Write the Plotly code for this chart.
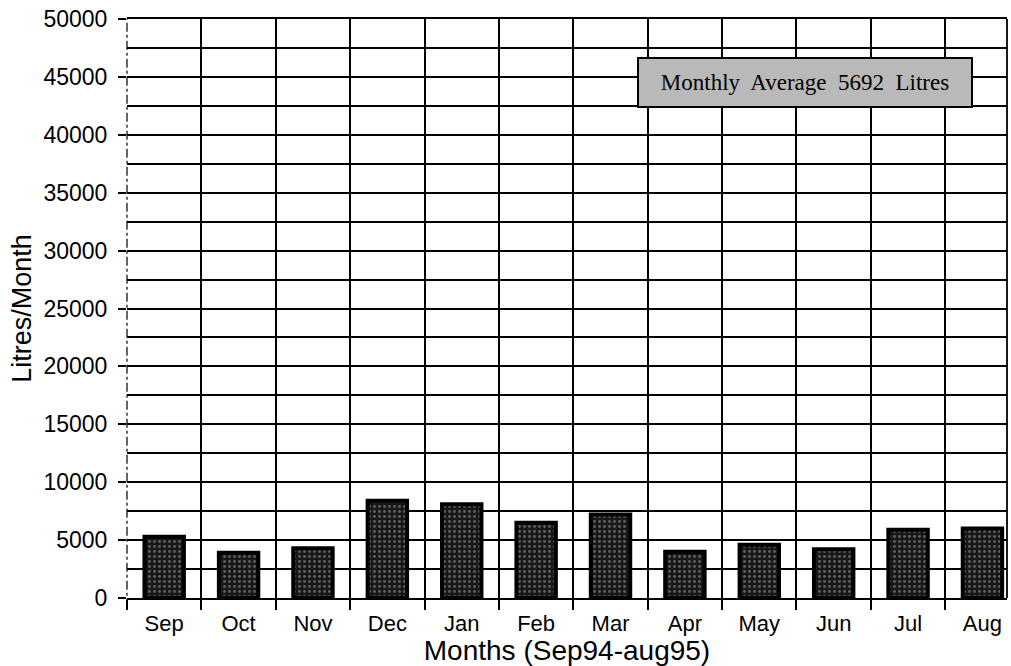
import plotly.graph_objects as go

# Monthly water use, September 1994 to August 1995
months = ["Sep", "Oct", "Nov", "Dec", "Jan", "Feb", "Mar", "Apr", "May", "Jun", "Jul", "Aug"]
litres = [5300, 3900, 4300, 8400, 8100, 6500, 7200, 4000, 4600, 4200, 5900, 6000]
average_label = "Monthly  Average  5692  Litres"

y_ticks = list(range(0, 50001, 5000))

fig = go.Figure(
    go.Bar(
        x=months,
        y=litres,
        width=0.53,
        marker=dict(
            color="#181818",
            line=dict(color="#000000", width=4),
            pattern=dict(shape=".", fgcolor="#a8a8a8", bgcolor="#181818", size=5, solidity=0.25),
        ),
    )
)

sans = "Liberation Sans, Arial, sans-serif"
grid_w = 1.6

fig.update_layout(
    width=1011,
    height=666,
    margin=dict(l=127, r=4, t=19, b=68),
    paper_bgcolor="white",
    plot_bgcolor="white",
    showlegend=False,
    font=dict(family=sans, color="black"),
    xaxis=dict(
        type="category",
        range=[-0.5, 11.33],
        tickson="boundaries",
        showgrid=True,
        gridcolor="black",
        gridwidth=grid_w,
        ticks="outside",
        ticklen=10,
        tickwidth=grid_w,
        tickcolor="black",
        ticklabelstandoff=5,
        tickfont=dict(size=22, family=sans),
        showline=True,
        linecolor="black",
        linewidth=1.8,
        mirror=True,
        title=dict(text="Months (Sep94-aug95)", font=dict(size=28, family=sans), standoff=5),
    ),
    yaxis=dict(
        range=[0, 50000],
        tickvals=y_ticks,
        ticktext=[str(v) for v in y_ticks],
        showgrid=True,
        gridcolor="black",
        gridwidth=grid_w,
        zeroline=False,
        ticks="outside",
        ticklen=8,
        tickwidth=grid_w,
        tickcolor="black",
        ticklabelstandoff=6,
        tickfont=dict(size=23, family=sans),
        minor=dict(dtick=2500, showgrid=True, gridcolor="black", gridwidth=grid_w),
        showline=False,
        title=dict(text="Litres/Month", font=dict(size=27, family=sans), standoff=3),
    ),
    shapes=[
        # hide the solid boundary line on the left, then draw a broken axis line
        dict(type="line", xref="paper", yref="paper", x0=0, x1=0, y0=0, y1=1,
             line=dict(color="white", width=3), layer="between"),
        dict(type="line", xref="paper", yref="paper", x0=0, x1=0, y0=-0.017, y1=1,
             line=dict(color="black", width=1.2, dash="dashdot"), layer="above"),
        # right-hand frame edge
        dict(type="line", xref="paper", yref="paper", x0=1, x1=1, y0=0, y1=1,
             line=dict(color="black", width=1.8), layer="above"),
    ],
    annotations=[
        dict(
            text=average_label,
            xref="paper", yref="paper",
            x=0.770, y=0.890,
            xanchor="center", yanchor="middle",
            showarrow=False,
            width=330, height=45,
            bgcolor="#b9b9b9",
            bordercolor="black",
            borderwidth=2,
            font=dict(family="Liberation Serif, Times New Roman, serif", size=23, color="black"),
        )
    ],
)

fig.write_html("out.html")
